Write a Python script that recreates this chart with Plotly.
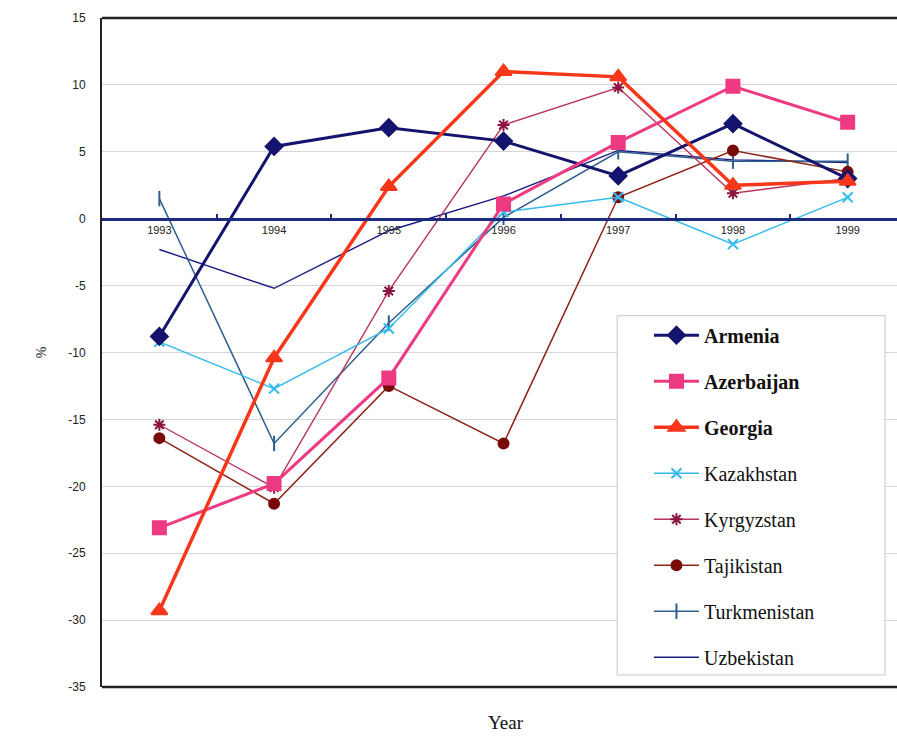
import plotly.graph_objects as go

years = ["1993", "1994", "1995", "1996", "1997", "1998", "1999"]

armenia = [-8.8, 5.4, 6.8, 5.8, 3.2, 7.1, 3.0]
azerbaijan = [-23.1, -19.8, -11.9, 1.1, 5.7, 9.9, 7.2]
georgia = [-29.3, -10.4, 2.4, 11.0, 10.6, 2.5, 2.8]
kazakhstan = [-9.2, -12.7, -8.2, 0.5, 1.6, -1.9, 1.6]
kyrgyzstan = [-15.4, -20.1, -5.4, 7.0, 9.8, 1.9, 3.0]
tajikistan = [-16.4, -21.3, -12.5, -16.8, 1.6, 5.1, 3.5]
turkmenistan = [1.5, -16.8, -7.8, 0.1, 5.0, 4.3, 4.3]
uzbekistan = [-2.3, -5.2, -0.9, 1.7, 5.1, 4.4, 4.2]

y_ticks = [15, 10, 5, 0, -5, -10, -15, -20, -25, -30, -35]
y_tick_text = ["15", "10", "5", "0", "-5", "-10", "-15", "-20", "-25", "-30", "-35"]

# name, values, line colour, line width, marker symbol, marker colour, marker size, legend rank
series = [
    ("Uzbekistan", uzbekistan, "#1A1A80", 1.4, None, "#1A1A80", 0, 8),
    ("Turkmenistan", turkmenistan, "#2F5F8E", 1.5, "line-ns", "#2F5F8E", 11, 7),
    ("Tajikistan", tajikistan, "#8E2418", 1.5, "circle", "#7A0A0A", 10, 6),
    ("Kyrgyzstan", kyrgyzstan, "#B8345E", 1.4, "asterisk", "#8B1540", 10, 5),
    ("Kazakhstan", kazakhstan, "#33BBEE", 1.4, "x-thin", "#33BBEE", 10, 4),
    ("<b>Armenia</b>", armenia, "#14146E", 3, "diamond", "#14146E", 13, 1),
    ("<b>Azerbaijan</b>", azerbaijan, "#EE3A82", 3, "square", "#EE3A82", 13, 2),
    ("<b>Georgia</b>", georgia, "#F8371A", 3.5, "triangle-up", "#F8371A", 14, 3),
]

fig = go.Figure()
for name, vals, lc, lw, sym, mc, ms, rank in series:
    mode = "lines+markers" if sym else "lines"
    marker = dict(symbol=sym, color=mc, size=ms,
                  line=dict(color=mc, width=2)) if sym else None
    fig.add_trace(go.Scatter(
        x=years, y=vals, name=name, mode=mode,
        line=dict(color=lc, width=lw), marker=marker,
        legendrank=rank, legendgroup=name,
    ))

serif = "Liberation Serif, Times New Roman, serif"
sans = "Liberation Sans, Arial, sans-serif"

fig.update_layout(
    width=897, height=738,
    margin=dict(l=102, r=0, t=18, b=51),
    plot_bgcolor="white", paper_bgcolor="white",
    showlegend=True,
    legend=dict(
        x=0.688, y=0.555, xanchor="left", yanchor="top",
        bgcolor="rgba(0,0,0,0)", borderwidth=0,
        font=dict(family=serif, size=20, color="#111111"),
        tracegroupgap=17, itemwidth=45,
    ),
    xaxis=dict(
        type="category", range=[-0.5, 6.43],
        anchor="free", position=0.7,
        showline=True, linecolor="#1C2A80", linewidth=3,
        tickson="boundaries", ticks="inside", ticklen=4,
        tickcolor="#1C2A80", tickwidth=2,
        showgrid=False, zeroline=False,
        tickfont=dict(family=sans, size=11, color="#222222"),
    ),
    yaxis=dict(
        range=[-35, 15], tickvals=y_ticks, ticktext=y_tick_text,
        showline=True, linecolor="#222222", linewidth=2,
        showgrid=True, gridcolor="#D6D6D6", gridwidth=1,
        zeroline=False, ticks="", ticklabelstandoff=12,
        tickfont=dict(family=sans, size=12, color="#222222"),
        title=dict(text="%", font=dict(family=serif, size=14, color="#222222"),
                   standoff=18),
    ),
    shapes=[
        # frame: top and bottom edges
        dict(type="line", xref="paper", yref="paper", x0=0, x1=1, y0=1, y1=1,
             line=dict(color="#222222", width=2.5)),
        dict(type="line", xref="paper", yref="paper", x0=0, x1=1, y0=0, y1=0,
             line=dict(color="#222222", width=2.5)),
        # legend panel
        dict(type="rect", xref="paper", yref="paper", layer="above",
             x0=0.648, x1=0.985, y0=0.018, y1=0.555,
             fillcolor="white", line=dict(color="#C8C8C8", width=1)),
    ],
    annotations=[
        dict(text="Year", xref="paper", yref="paper", x=0.508, y=0,
             yshift=-35, showarrow=False, yanchor="middle",
             font=dict(family=serif, size=19, color="#111111")),
    ],
)

fig.write_html("out.html")
